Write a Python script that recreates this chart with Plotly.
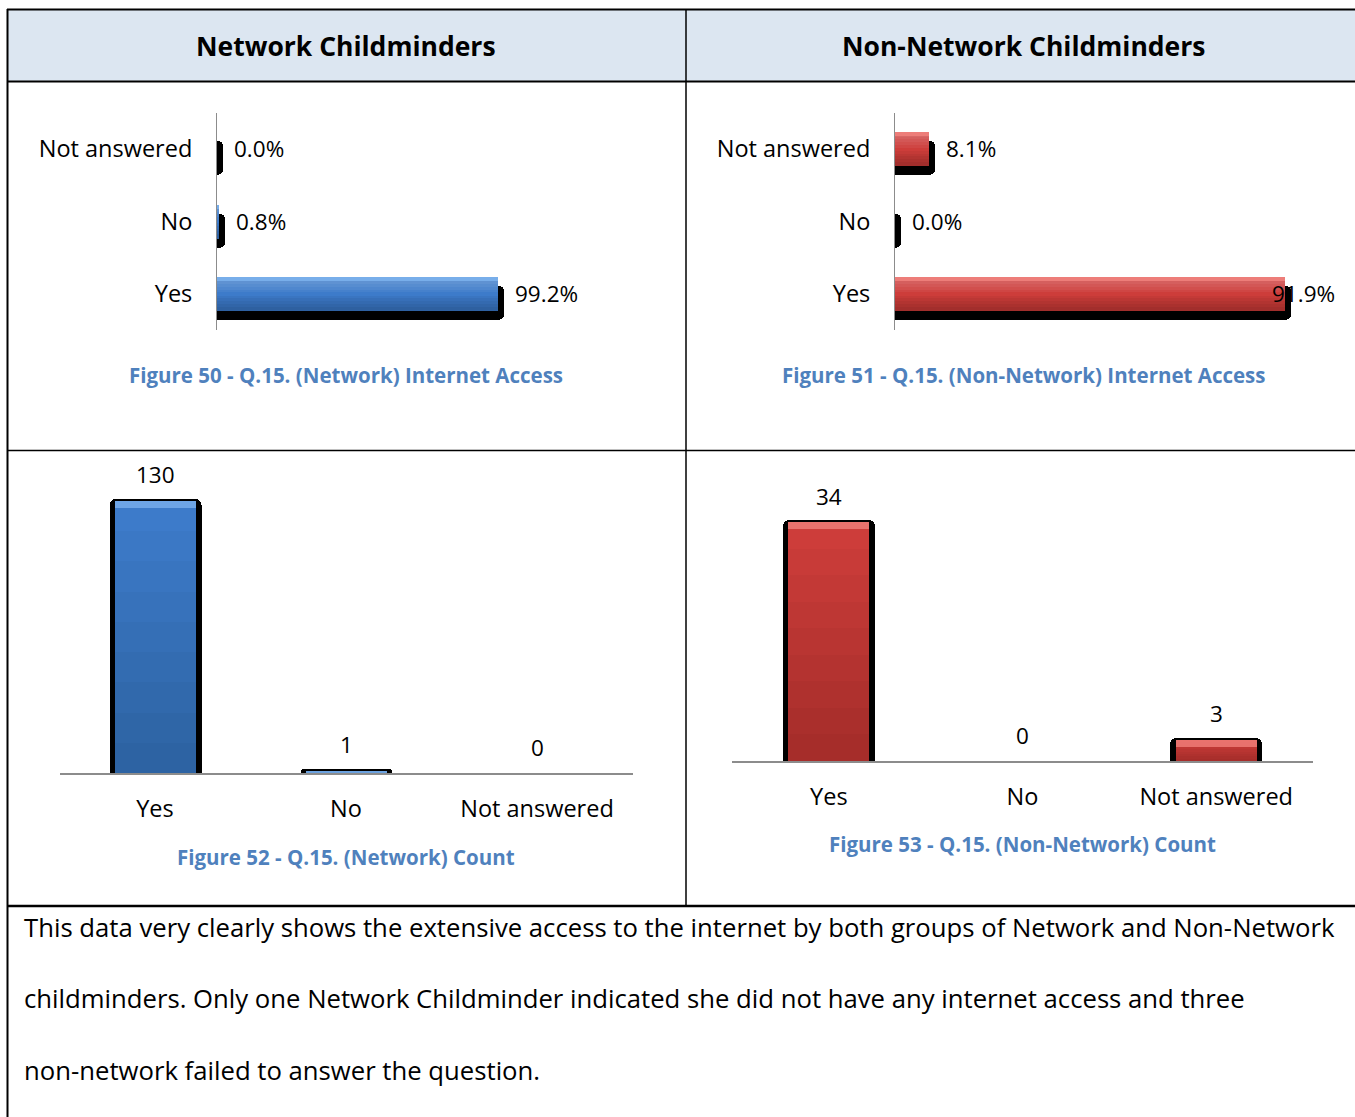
import plotly.graph_objects as go

W, H = 1355, 1117
FONT = "Open Sans, Calibri, Carlito, Lato, sans-serif"

# ---------------- data ----------------
categories = ["Yes", "No", "Not answered"]
net_pct = [0.992, 0.008, 0.0]
non_pct = [0.919, 0.0, 0.081]
net_count = [130, 1, 0]
non_count = [34, 0, 3]

header_labels = ["Network Childminders", "Non-Network Childminders"]
captions = [
    "Figure 50 - Q.15. (Network) Internet Access",
    "Figure 51 - Q.15. (Non-Network) Internet Access",
    "Figure 52 - Q.15. (Network) Count",
    "Figure 53 - Q.15. (Non-Network) Count",
]
body_lines = [
    "This data very clearly shows the extensive access to the internet by both groups of Network and Non-Network",
    "childminders. Only one Network Childminder indicated she did not have any internet access and three",
    "non-network failed to answer the question.",
]

BLUE = dict(face="#3D7BCA", top="#7AB0EC", bot="#2B5693")
RED = dict(face="#CD3D3A", top="#F0807B", bot="#982C29")
CAP_COLOR = "#4F81BD"
AXIS_GRAY = "#8C8C8C"

VAL_SIZE = 22.5
TICK_SIZE = 23.5


def px(x):
    return x / W


def py(y):
    return 1 - y / H


fig = go.Figure()

# ---------------- axes geometry ----------------
axes = {
    "1": (217, 580, 112.75, 330),
    "2": (895, 1337, 112.75, 330),
    "3": (59.5, 632.5, 480, 773),
    "4": (732, 1313, 508, 761),
}
xranges = {"1": [0, 1.2813], "2": [0, 1.0415], "3": [-0.5, 2.5], "4": [-0.5, 2.5]}
yranges = {"1": [-0.5, 2.5], "2": [-0.5, 2.5], "3": [0, 140], "4": [0, 36]}

layout_axes = {}
for k, (x0, x1, y0, y1) in axes.items():
    xa = "xaxis" if k == "1" else f"xaxis{k}"
    ya = "yaxis" if k == "1" else f"yaxis{k}"
    yr = "y" if k == "1" else f"y{k}"
    xr = "x" if k == "1" else f"x{k}"
    layout_axes[xa] = dict(domain=[px(x0), px(x1)], anchor=yr, range=xranges[k],
                           showgrid=False, zeroline=False, fixedrange=True)
    layout_axes[ya] = dict(domain=[py(y1), py(y0)], anchor=xr, range=yranges[k],
                           showgrid=False, zeroline=False, fixedrange=True)


def pxunit_x(k):
    x0, x1, _, _ = axes[k]
    r = xranges[k]
    return (r[1] - r[0]) / (x1 - x0)


def pxunit_y(k):
    _, _, y0, y1 = axes[k]
    r = yranges[k]
    return (r[1] - r[0]) / (y1 - y0)


annotations = []


# ---------------- horizontal bar charts ----------------
def hbar(k, vals, col):
    xr = "x" if k == "1" else f"x{k}"
    yr = "y" if k == "1" else f"y{k}"
    du = pxunit_x(k)
    cu = pxunit_y(k)
    fw = 34 * cu
    shadow_x = [v + 6 * du for v in vals]
    common = dict(orientation="h", y=categories, xaxis=xr, yaxis=yr,
                  hoverinfo="skip", showlegend=False)
    fig.add_trace(go.Bar(x=shadow_x, width=fw, offset=-fw / 2 - 9 * cu,
                         marker=dict(color="#000000", line_width=0, cornerradius=5), **common))
    fig.add_trace(go.Bar(x=vals, width=fw, offset=-fw / 2,
                         marker=dict(color=col["face"], line_width=0), **common))
    for i in range(5):
        h = fw * (0.45 - i * 0.08)
        fig.add_trace(go.Bar(x=vals, width=h, offset=fw / 2 - h,
                             marker=dict(color="#FFFFFF", line_width=0, opacity=0.05), **common))
    for i in range(5):
        h = fw * (0.45 - i * 0.08)
        fig.add_trace(go.Bar(x=vals, width=h, offset=-fw / 2,
                             marker=dict(color="#000000", line_width=0, opacity=0.045), **common))
    fig.add_trace(go.Bar(x=vals, width=4 * cu, offset=fw / 2 - 4 * cu,
                         marker=dict(color=col["top"], line_width=0, opacity=0.9), **common))
    xmax = xranges[k][1]
    for c, v in zip(categories, vals):
        txt = f"{v * 100:.1f}%"
        est_w = len(txt) * 13
        if v / du + 16 + est_w > xmax / du:
            annotations.append(dict(x=xmax, y=c, xref=xr, yref=yr, text=txt, showarrow=False,
                                    xanchor="right", yanchor="middle",
                                    font=dict(size=VAL_SIZE, color="#000", family=FONT)))
        else:
            annotations.append(dict(x=v, y=c, xref=xr, yref=yr, text=txt, showarrow=False,
                                    xanchor="left", yanchor="middle", xshift=15,
                                    font=dict(size=VAL_SIZE, color="#000", family=FONT)))


hbar("1", net_pct, BLUE)
hbar("2", non_pct, RED)


# ---------------- vertical bar charts ----------------
def vbar(k, vals, col, face_px, shadow_px):
    xr = f"x{k}"
    yr = f"y{k}"
    cu = pxunit_x(k)
    du = pxunit_y(k)
    fw = face_px * cu
    sw = shadow_px * cu
    common = dict(x=categories, xaxis=xr, yaxis=yr, hoverinfo="skip", showlegend=False)
    shadow_y = [v + 2 * du if v > 0 else 0 for v in vals]
    fig.add_trace(go.Bar(y=shadow_y, width=sw, offset=-sw / 2,
                         marker=dict(color="#000000", line_width=0, cornerradius=6), **common))
    fig.add_trace(go.Bar(y=vals, width=fw, offset=-fw / 2,
                         marker=dict(color=col["face"], line_width=0), **common))
    for i in range(1, 9):
        frac = i / 9
        fig.add_trace(go.Bar(y=[v * frac for v in vals], width=fw, offset=-fw / 2,
                             marker=dict(color="#000000", line_width=0, opacity=0.022), **common))
    bev = [min(v, 7 * du) for v in vals]
    fig.add_trace(go.Bar(y=bev, base=[v - b for v, b in zip(vals, bev)], width=fw, offset=-fw / 2,
                         marker=dict(color=col["top"], line_width=0, opacity=0.8), **common))
    for c, v in zip(categories, vals):
        annotations.append(dict(x=c, y=v, xref=xr, yref=yr, text=str(v), showarrow=False,
                                xanchor="center", yanchor="middle", yshift=26,
                                font=dict(size=VAL_SIZE, color="#000", family=FONT)))


vbar("3", net_count, BLUE, 81, 92)
vbar("4", non_count, RED, 81, 92)

# axis styling
tickfont = dict(size=TICK_SIZE, color="#000", family=FONT)
for k in ("1", "2"):
    xa = "xaxis" if k == "1" else f"xaxis{k}"
    ya = "yaxis" if k == "1" else f"yaxis{k}"
    layout_axes[xa].update(visible=False)
    layout_axes[ya].update(type="category", categoryorder="array", categoryarray=categories,
                           showline=True, linecolor=AXIS_GRAY, linewidth=1,
                           ticks="outside", ticklen=19, tickcolor="rgba(0,0,0,0)",
                           tickfont=tickfont)
for k in ("3", "4"):
    xa = f"xaxis{k}"
    ya = f"yaxis{k}"
    layout_axes[ya].update(visible=False)
    layout_axes[xa].update(type="category", categoryorder="array", categoryarray=categories,
                           showline=True, linecolor=AXIS_GRAY, linewidth=1.5,
                           ticks="outside", ticklen=14, tickcolor="rgba(0,0,0,0)",
                           tickfont=tickfont)

# ---------------- table frame ----------------
shapes = [
    dict(type="rect", xref="paper", yref="paper", x0=px(7), x1=px(1355), y0=py(82), y1=py(9),
         fillcolor="#DCE6F1", line_width=0, layer="below"),
]


def hline(y, x0, x1, w):
    shapes.append(dict(type="line", xref="paper", yref="paper", x0=px(x0), x1=px(x1),
                       y0=py(y), y1=py(y), line=dict(color="#000", width=w)))


def vline(x, y0, y1, w):
    shapes.append(dict(type="line", xref="paper", yref="paper", x0=px(x), x1=px(x),
                       y0=py(y0), y1=py(y1), line=dict(color="#000", width=w)))


hline(9.5, 7, 1355, 2)
hline(81.5, 7, 1355, 2)
hline(450.5, 7, 1355, 1.5)
hline(906, 7, 1355, 2.5)
vline(7.5, 9, 1117, 2)
vline(686, 9, 906, 1.5)

for txt, cx in zip(header_labels, (346, 1023)):
    annotations.append(dict(x=px(cx), y=py(46), xref="paper", yref="paper", text=f"<b>{txt}</b>",
                            showarrow=False, xanchor="center", yanchor="middle",
                            font=dict(size=26.5, color="#000", family=FONT)))
for txt, (cx, cy) in zip(captions, ((346, 375), (1023, 375), (346, 857), (1022, 844))):
    annotations.append(dict(x=px(cx), y=py(cy), xref="paper", yref="paper", text=f"<b>{txt}</b>",
                            showarrow=False, xanchor="center", yanchor="middle",
                            font=dict(size=20.5, color=CAP_COLOR, family=FONT)))
for txt, cy in zip(body_lines, (927, 998, 1070)):
    annotations.append(dict(x=px(22), y=py(cy), xref="paper", yref="paper", text=txt,
                            showarrow=False, xanchor="left", yanchor="middle",
                            font=dict(size=25.7, color="#000", family=FONT)))

fig.update_layout(
    width=W, height=H, margin=dict(l=0, r=0, t=0, b=0),
    paper_bgcolor="white", plot_bgcolor="rgba(0,0,0,0)",
    barmode="overlay", bargap=0, showlegend=False,
    shapes=shapes, annotations=annotations,
    **layout_axes,
)

fig.write_html("out.html", config={"displayModeBar": False},
               post_script="document.body.style.margin='0';document.body.style.overflow='hidden';")
